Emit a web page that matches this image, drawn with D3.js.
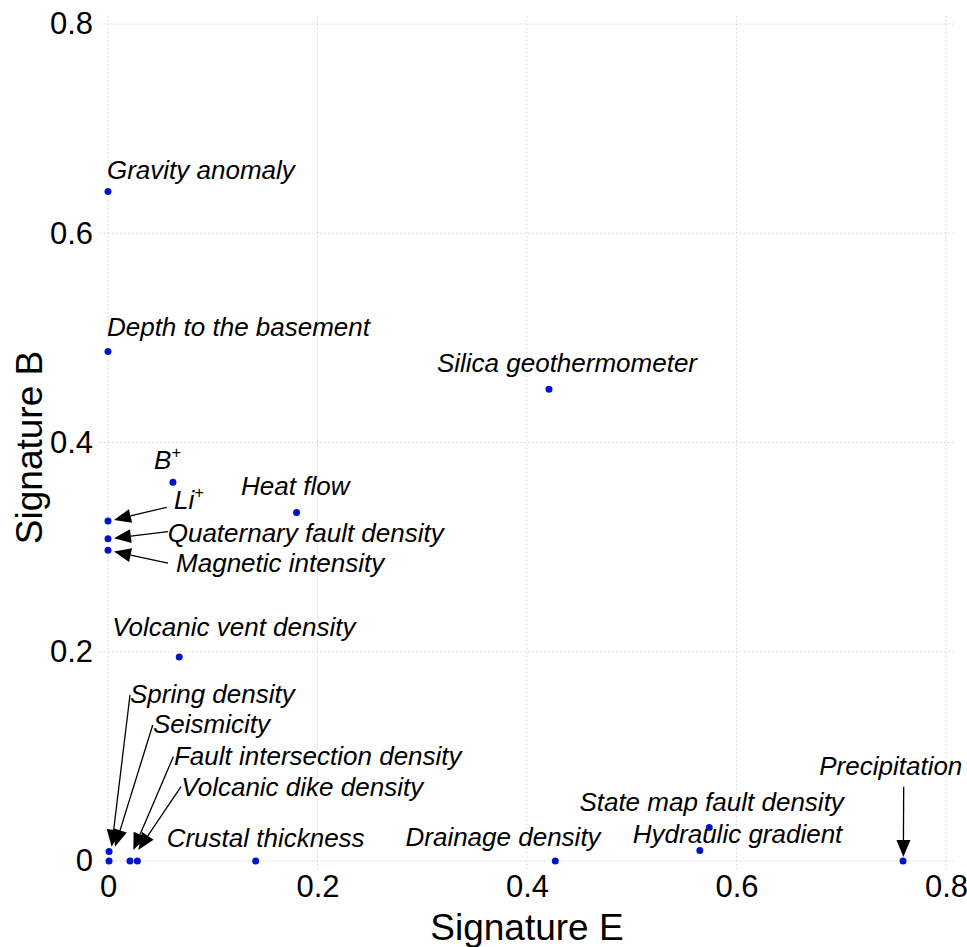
<!DOCTYPE html>
<html>
<head>
<meta charset="utf-8">
<script src="https://cdn.jsdelivr.net/npm/d3@7"></script>
<style>
  body { margin: 0; background: #fff; }
  text { font-family: "Liberation Sans", Arial, sans-serif; fill: #000; }
</style>
</head>
<body>
<div id="scatter"></div>
<script>
// data
var names = ["Gravity anomaly", "Depth to the basement", "Silica geothermometer", "B", "Heat flow",
  "Li", "Quaternary fault density", "Magnetic intensity", "Volcanic vent density",
  "Spring density", "Seismicity", "Fault intersection density", "Volcanic dike density",
  "Crustal thickness", "Drainage density", "Hydraulic gradient", "State map fault density", "Precipitation"];
var sigE = [0, 0, 0.421, 0.062, 0.180, 0, 0, 0, 0.068, 0.001, 0.001, 0.021, 0.028, 0.141, 0.427, 0.565, 0.574, 0.759];
var sigB = [0.640, 0.487, 0.451, 0.362, 0.333, 0.325, 0.308, 0.297, 0.195, 0.009, 0, 0, 0, 0, 0, 0.010, 0.032, 0];
var superscripts = {"B": "+", "Li": "+"};
var tickValues = [0, 0.2, 0.4, 0.6, 0.8];

// label anchors (left, baseline) in data units
var labelE = [-0.001, -0.001, 0.314, 0.044, 0.127, 0.063, 0.057, 0.065, 0.004, 0.021, 0.043, 0.063, 0.070, 0.056, 0.284, 0.501, 0.450, 0.679];
var labelB = [0.652, 0.502, 0.467, 0.3745, 0.350, 0.336, 0.305, 0.2766, 0.215, 0.151, 0.122, 0.092, 0.062, 0.0134, 0.0146, 0.0168, 0.048, 0.0822];

// arrows: label index, tail and head in data units
var arrows = [
  {i: 5, t: [0.0561, 0.3381], h: [0.0057, 0.3260]},
  {i: 6, t: [0.0573, 0.3148], h: [0.0057, 0.3085]},
  {i: 7, t: [0.0573, 0.2846], h: [0.0057, 0.2957]},
  {i: 9, t: [0.0210, 0.1587], h: [0.0035, 0.0137]},
  {i: 10, t: [0.0427, 0.1300], h: [0.0067, 0.0137]},
  {i: 11, t: [0.0624, 0.0997], h: [0.0242, 0.0105]},
  {i: 12, t: [0.0697, 0.0710], h: [0.0289, 0.0105]},
  {i: 17, t: [0.7596, 0.0710], h: [0.7593, 0.0038]}
];

var svgWidth = 967;
var svgHeight = 947;

var svg = d3.select("#scatter")
  .append("svg")
  .attr("width", svgWidth)
  .attr("height", svgHeight);

var x = d3.scaleLinear().domain([0, 0.8]).range([108, 946]);
var y = d3.scaleLinear().domain([0, 0.8]).range([861, 24]);
var lim = [-0.008, 0.808];

// grid
var grid = svg.append("g")
  .attr("stroke", "#dcdcdc")
  .attr("stroke-width", 1)
  .attr("stroke-dasharray", "2,2");

grid.selectAll(".gx").data(tickValues).enter().append("line")
  .attr("x1", d => x(d)).attr("x2", d => x(d))
  .attr("y1", y(lim[1])).attr("y2", y(lim[0]));

grid.selectAll(".gy").data(tickValues).enter().append("line")
  .attr("y1", d => y(d)).attr("y2", d => y(d))
  .attr("x1", x(lim[0])).attr("x2", x(lim[1]));

// axes (labels only)
var fmt = d => d === 0 ? "0" : d3.format(".1f")(d);

var bottomAxis = d3.axisBottom(x).tickValues(tickValues).tickFormat(fmt).tickSize(0).tickPadding(14);
var leftAxis = d3.axisLeft(y).tickValues(tickValues).tickFormat(fmt).tickSize(0).tickPadding(15);

var gx = svg.append("g").attr("transform", `translate(0, ${y(0)})`).call(bottomAxis);
var gy = svg.append("g").attr("transform", `translate(${x(0)}, 0)`).call(leftAxis);
[gx, gy].forEach(function(g) {
  g.select(".domain").remove();
  g.selectAll("text")
    .style("font-family", "'Liberation Sans', Arial, sans-serif")
    .style("font-size", "31px")
    .attr("fill", "#000");
});

// axis titles
svg.append("text")
  .attr("x", x(0.4))
  .attr("y", 940)
  .attr("text-anchor", "middle")
  .style("font-size", "37px")
  .text("Signature E");

svg.append("text")
  .attr("transform", `translate(42, ${y(0.4) + 5}) rotate(-90)`)
  .attr("text-anchor", "middle")
  .style("font-size", "37px")
  .text("Signature B");

// arrows
var arrowGroup = svg.append("g");
arrows.forEach(function(a) {
  var x1 = x(a.t[0]), y1 = y(a.t[1]);
  var x2 = x(a.h[0]), y2 = y(a.h[1]);
  var dx = x2 - x1, dy = y2 - y1;
  var len = Math.sqrt(dx * dx + dy * dy);
  var ux = dx / len, uy = dy / len;
  var hl = 17, hw = 7;
  var bx = x2 - ux * hl, by = y2 - uy * hl;
  arrowGroup.append("line")
    .attr("x1", x1).attr("y1", y1)
    .attr("x2", bx).attr("y2", by)
    .attr("stroke", "#000")
    .attr("stroke-width", 1.3);
  arrowGroup.append("polygon")
    .attr("points", [
      [x2, y2],
      [bx - uy * hw, by + ux * hw],
      [bx + uy * hw, by - ux * hw]
    ].map(p => p.join(",")).join(" "))
    .attr("fill", "#000");
});

// points
svg.selectAll("circle")
  .data(names)
  .enter()
  .append("circle")
  .attr("cx", (d, i) => x(sigE[i]))
  .attr("cy", (d, i) => y(sigB[i]))
  .attr("r", 3.5)
  .attr("fill", "#0014c8");

// labels
var labels = svg.selectAll(".lbl")
  .data(names)
  .enter()
  .append("text")
  .attr("class", "lbl")
  .attr("x", (d, i) => x(labelE[i]))
  .attr("y", (d, i) => y(labelB[i]))
  .style("font-size", "26px")
  .style("font-style", "italic")
  .text(d => d);

labels.filter(d => superscripts[d])
  .append("tspan")
  .attr("dy", -11)
  .style("font-size", "16px")
  .text(d => superscripts[d]);
</script>
</body>
</html>
